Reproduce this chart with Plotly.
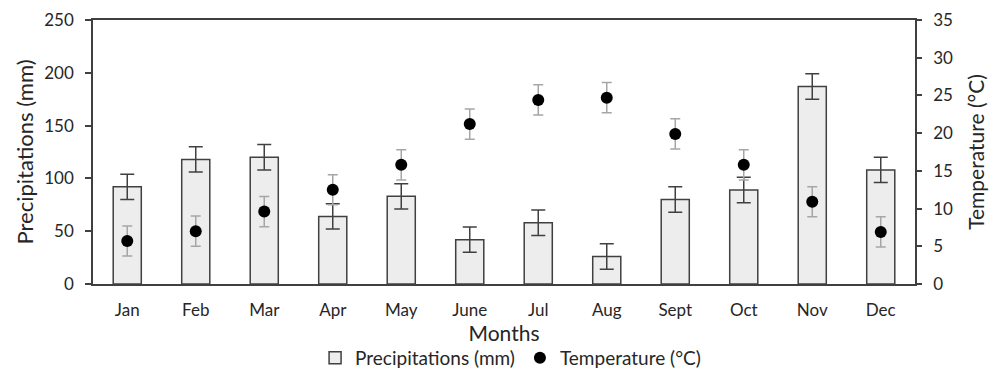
import plotly.graph_objects as go
from plotly.subplots import make_subplots

# Monthly climate summary
months = ["Jan", "Feb", "Mar", "Apr", "May", "June", "Jul", "Aug", "Sept", "Oct", "Nov", "Dec"]
precipitation_mm = [92, 118, 120, 64, 83, 42, 58, 26, 80, 89, 187, 108]
precipitation_err = [12, 12, 12, 12, 12, 12, 12, 12, 12, 12, 12, 12]
temperature_c = [5.7, 7.0, 9.6, 12.5, 15.8, 21.2, 24.4, 24.7, 19.9, 15.8, 10.9, 6.9]
temperature_err = [2, 2, 2, 2, 2, 2, 2, 2, 2, 2, 2, 2]

FONT = "Lato"
INK = "#262626"
AXIS = "#404040"
TICK_SIZE = 17

fig = make_subplots(specs=[[{"secondary_y": True}]])

fig.add_trace(
    go.Bar(
        x=months,
        y=precipitation_mm,
        name="Precipitations (mm)",
        width=0.41,
        marker=dict(color="#EDEDED", line=dict(color=AXIS, width=1.5)),
        error_y=dict(type="data", array=precipitation_err, color=AXIS,
                     thickness=1.5, width=7),
    ),
    secondary_y=False,
)

fig.add_trace(
    go.Scatter(
        x=months,
        y=temperature_c,
        name="Temperature (°C)",
        mode="markers",
        marker=dict(color="black", size=12, symbol="circle"),
        error_y=dict(type="data", array=temperature_err, color="#A6A6A6",
                     thickness=1.5, width=5),
    ),
    secondary_y=True,
)

fig.update_layout(
    width=1000,
    height=371,
    margin=dict(l=93, r=85, t=20, b=87, autoexpand=False),
    paper_bgcolor="white",
    plot_bgcolor="white",
    font=dict(family=FONT, size=TICK_SIZE, color=INK),
    showlegend=True,
    legend=dict(
        orientation="h",
        x=0.508,
        xanchor="center",
        y=-0.28,
        yanchor="middle",
        font=dict(family=FONT, size=19, color=INK),
        itemwidth=30,
        traceorder="normal",
    ),
)

fig.update_xaxes(
    domain=[0, 1],
    title=dict(text="Months", font=dict(family=FONT, size=21, color=INK), standoff=0),
    automargin=False,
    showline=True,
    linecolor=AXIS,
    linewidth=1.5,
    mirror=True,
    ticks="",
    ticklabelstandoff=10,
    showgrid=False,
    range=[-0.5, 11.5],
    tickfont=dict(family=FONT, size=TICK_SIZE, color=INK),
)

fig.update_yaxes(
    title=dict(text="Precipitations (mm)", font=dict(family=FONT, size=22, color=INK), standoff=5),
    automargin=False,
    range=[0, 250],
    dtick=50,
    showline=True,
    linecolor=AXIS,
    linewidth=1.5,
    ticks="outside",
    ticklen=6,
    tickwidth=1.5,
    tickcolor=AXIS,
    ticklabelstandoff=8,
    showgrid=False,
    zeroline=False,
    tickfont=dict(family=FONT, size=TICK_SIZE, color=INK),
    secondary_y=False,
)

fig.update_yaxes(
    title=dict(text="Temperature (°C)", font=dict(family=FONT, size=21, color=INK), standoff=17),
    automargin=False,
    range=[0, 35],
    dtick=5,
    showline=True,
    linecolor=AXIS,
    linewidth=1.5,
    ticks="outside",
    ticklen=5,
    tickwidth=1.5,
    tickcolor=AXIS,
    ticklabelstandoff=8,
    showgrid=False,
    zeroline=False,
    tickfont=dict(family=FONT, size=TICK_SIZE, color=INK),
    secondary_y=True,
)

fig.write_html("out.html")
